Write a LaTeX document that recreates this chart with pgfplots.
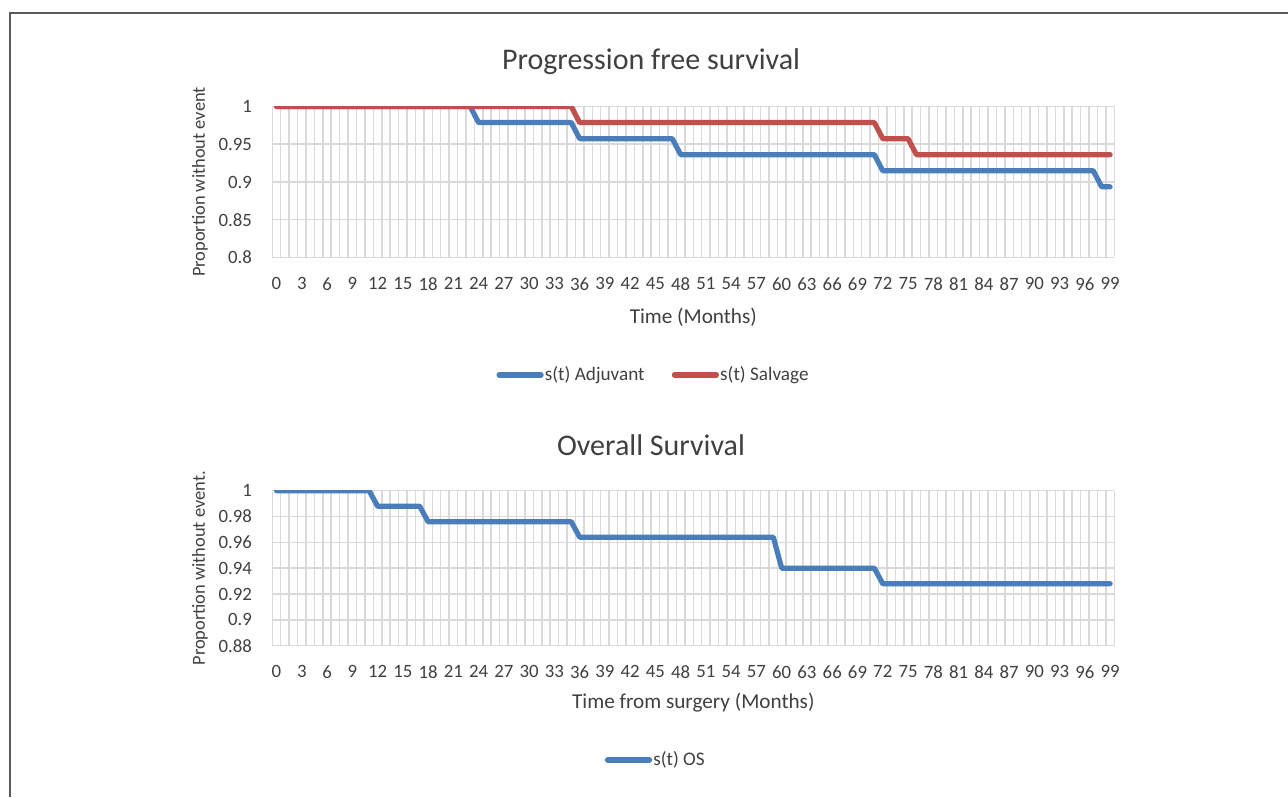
\documentclass[border=0pt]{standalone}
\usepackage{fontspec}
\setmainfont{Carlito}
\usepackage{pgfplots}
\pgfplotsset{compat=1.18}
\definecolor{cblue}{RGB}{74,126,187}
\definecolor{cred}{RGB}{192,80,77}
\definecolor{cgrid}{RGB}{217,217,217}
\definecolor{ctext}{RGB}{64,64,64}
\definecolor{cframe}{RGB}{90,90,90}

\pgfplotsset{
 survax/.style={
  scale only axis, width=421pt,
  xmin=-0.5, xmax=99.5,
  xtick={0,3,...,99},
  minor xtick={-0.5,0.5,...,99.5},
  xminorgrids=true, xmajorgrids=false, ymajorgrids=true,
  major tick length=0pt, minor tick length=0pt,
  axis line style={draw=none},
  grid style={cgrid, line width=0.75pt},
  minor grid style={cgrid, line width=0.75pt},
  tick label style={font=\fontsize{9.4}{11}\selectfont, text=ctext},
  /pgf/number format/assume math mode=true,
  yticklabel style={/pgf/number format/fixed, /pgf/number format/precision=2, anchor=east, xshift=-6.7pt},
  xticklabel style={yshift=-6.5pt},
  title style={font=\fontsize{15}{18}\selectfont, text=ctext, anchor=center},
  xlabel style={font=\fontsize{10.6}{13}\selectfont, text=ctext, anchor=center},
  ylabel style={font=\fontsize{9.2}{11}\selectfont, text=ctext, anchor=center},
  legend style={draw=none, fill=none, font=\fontsize{9.6}{11}\selectfont, text=ctext, anchor=center,
    nodes={inner sep=0.6pt},
    /tikz/every even column/.append style={column sep=13pt}},
  legend image code/.code={\draw[#1] (0pt,0pt) -- (21pt,0pt);},
  every axis plot/.append style={line width=2.6pt, line join=round, line cap=round, no markers},
 }
}

\begin{document}
\begin{tikzpicture}
\useasboundingbox (0,0) rectangle (644pt,398.5pt);
\draw[cframe, line width=0.8pt] (5pt,0pt) -- (5pt,392pt) -- (650pt,392pt);

\begin{axis}[survax,
  at={(136.15pt,269.75pt)}, anchor=south west,
  height=75.5pt,
  ymin=0.8, ymax=1,
  ytick={0.8,0.85,0.9,0.95,1},
  yticklabels={0.8,0.85,0.9,0.95,1},
  title={Progression free survival},
  title style={at={(axis description cs:0.4498,1.215)}},
  xlabel={Time (Months)},
  xlabel style={at={(axis description cs:0.5,-0.394)}},
  ylabel={Proportion without event},
  ylabel style={at={(axis description cs:-0.0859,0.5)}},
  legend columns=2,
  legend style={at={(axis description cs:0.4523,-0.778)}},
]
\addplot[cblue] coordinates {(0,1) (23,1) (24,0.9787) (35,0.9787) (36,0.9574) (47,0.9574) (48,0.9362) (71,0.9362) (72,0.9149) (97,0.9149) (98,0.8936) (99,0.8936)};
\addlegendentry{s(t) Adjuvant}
\addplot[cred] coordinates {(0,1) (35,1) (36,0.9787) (71,0.9787) (72,0.9574) (75,0.9574) (76,0.9362) (99,0.9362)};
\addlegendentry{s(t) Salvage}
\end{axis}

\begin{axis}[survax,
  at={(136.15pt,75.65pt)}, anchor=south west,
  height=77.5pt,
  ymin=0.88, ymax=1,
  ytick={0.88,0.9,0.92,0.94,0.96,0.98,1},
  yticklabels={0.88,0.9,0.92,0.94,0.96,0.98,1},
  title={Overall Survival},
  title style={at={(axis description cs:0.4498,1.218)}},
  xlabel={Time from surgery (Months)},
  xlabel style={at={(axis description cs:0.5,-0.3697)}},
  ylabel={Proportion without event.},
  ylabel style={at={(axis description cs:-0.0859,0.5)}},
  legend style={at={(axis description cs:0.455,-0.737)}},
]
\addplot[cblue] coordinates {(0,1) (11,1) (12,0.988) (17,0.988) (18,0.976) (35,0.976) (36,0.964) (59,0.964) (60,0.940) (71,0.940) (72,0.928) (99,0.928)};
\addlegendentry{s(t) OS}
\end{axis}
\end{tikzpicture}
\end{document}
